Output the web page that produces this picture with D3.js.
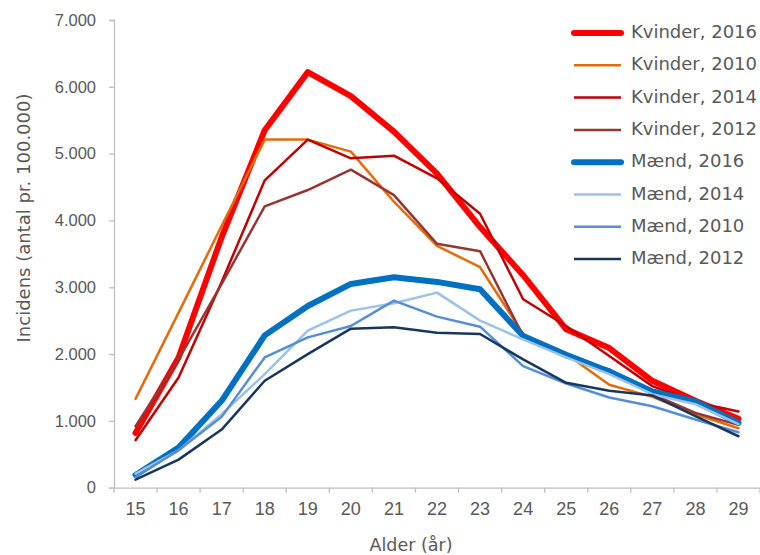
<!DOCTYPE html>
<html>
<head>
<meta charset="utf-8">
<script src="https://cdn.jsdelivr.net/npm/d3@7"></script>
<style>
  body { margin: 0; background: #fff; }
  svg { display: block; font-family: "DejaVu Sans", Verdana, sans-serif; }
</style>
</head>
<body>
<div id="chart"></div>
<script>
const ages = ["15", "16", "17", "18", "19", "20", "21", "22", "23", "24", "25", "26", "27", "28", "29"]
const yTicks = [0, 1000, 2000, 3000, 4000, 5000, 6000, 7000]

const kvinder2016 = [820, 1950, 3750, 5350, 6220, 5860, 5330, 4700, 3900, 3180, 2370, 2090, 1600, 1300, 1030]
const kvinder2010 = [1330, 2620, 3920, 5210, 5210, 5030, 4280, 3620, 3300, 2300, 2000, 1540, 1360, 1100, 890]
const kvinder2014 = [710, 1650, 3080, 4600, 5210, 4930, 4970, 4630, 4100, 2820, 2420, 1970, 1520, 1280, 1140]
const kvinder2012 = [920, 1920, 3050, 4210, 4455, 4760, 4380, 3650, 3540, 2270, 1950, 1770, 1400, 1120, 940]
const maend2016 = [190, 600, 1300, 2280, 2720, 3050, 3150, 3080, 2970, 2270, 1990, 1740, 1440, 1290, 970]
const maend2014 = [210, 560, 1100, 1700, 2350, 2650, 2760, 2920, 2500, 2220, 1950, 1700, 1400, 1250, 950]
const maend2010 = [160, 560, 1060, 1950, 2250, 2420, 2800, 2560, 2410, 1820, 1560, 1350, 1220, 1020, 830]
const maend2012 = [120, 420, 870, 1600, 2000, 2380, 2400, 2320, 2300, 1920, 1570, 1450, 1380, 1070, 770]

const series = [
    { name: "Kvinder, 2016", values: kvinder2016, color: "#ff0000", width: 6 },
    { name: "Kvinder, 2010", values: kvinder2010, color: "#e36c09", width: 2.5 },
    { name: "Kvinder, 2014", values: kvinder2014, color: "#c00000", width: 2.5 },
    { name: "Kvinder, 2012", values: kvinder2012, color: "#963634", width: 2.5 },
    { name: "Mænd, 2016", values: maend2016, color: "#0070c0", width: 6 },
    { name: "Mænd, 2014", values: maend2014, color: "#9cc2e5", width: 2.5 },
    { name: "Mænd, 2010", values: maend2010, color: "#558ed5", width: 2.5 },
    { name: "Mænd, 2012", values: maend2012, color: "#17375e", width: 2.5 }
]

const width = 760
const height = 555
const plotLeft = 114
const plotRight = 760
const plotTop = 20
const plotBottom = 487.7
const textColor = "#595959"
const axisColor = "#bfbfbf"

const svg = d3.select("#chart").append("svg")
    .attr("width", width)
    .attr("height", height)

const x = d3.scaleBand().domain(ages).range([plotLeft, plotRight])
const y = d3.scaleLinear().domain([0, 7000]).range([plotBottom, plotTop])

const da = d3.formatLocale({ decimal: ",", thousands: ".", grouping: [3], currency: ["", ""] })
const fmt = da.format(",")

// y axis
const yAxis = svg.append("g")
    .attr("transform", `translate(${plotLeft},0)`)
    .call(d3.axisLeft(y).tickValues(yTicks).tickFormat(fmt).tickSize(5).tickPadding(13))
yAxis.select(".domain").attr("stroke", axisColor).attr("stroke-width", 1.3)
yAxis.selectAll(".tick line").attr("stroke", axisColor).attr("stroke-width", 1.3)
yAxis.selectAll(".tick text")
    .attr("fill", textColor)
    .style("font-size", "16.5px")

// x axis, ticks sit between categories
const xAxis = svg.append("g")
    .attr("transform", `translate(0,${plotBottom})`)
    .call(d3.axisBottom(x).tickSize(0).tickPadding(15))
xAxis.select(".domain").attr("stroke", axisColor).attr("stroke-width", 1.3)
xAxis.selectAll(".tick text")
    .attr("fill", textColor)
    .style("font-size", "18px")
xAxis.append("g").selectAll("line")
    .data(ages.concat(["end"]))
    .enter().append("line")
    .attr("x1", (d, i) => plotLeft + i * x.step())
    .attr("x2", (d, i) => plotLeft + i * x.step())
    .attr("y1", 0)
    .attr("y2", 5)
    .attr("stroke", axisColor)
    .attr("stroke-width", 1.3)

// axis titles
svg.append("text")
    .attr("transform", "translate(25,218) rotate(-90)")
    .attr("text-anchor", "middle")
    .attr("dominant-baseline", "middle")
    .attr("fill", textColor)
    .style("font-size", "18px")
    .text("Incidens (antal pr. 100.000)")

svg.append("text")
    .attr("x", 411)
    .attr("y", 546)
    .attr("text-anchor", "middle")
    .attr("dominant-baseline", "middle")
    .attr("fill", textColor)
    .style("font-size", "17.5px")
    .text("Alder (år)")

// lines
const line = d3.line()
    .x((d, i) => x(ages[i]) + x.bandwidth() / 2)
    .y(d => y(d))

svg.append("g")
    .selectAll("path")
    .data(series)
    .enter().append("path")
    .attr("fill", "none")
    .attr("stroke", d => d.color)
    .attr("stroke-width", d => d.width)
    .attr("stroke-linejoin", "round")
    .attr("stroke-linecap", "round")
    .attr("d", d => line(d.values))

// legend
const legend = svg.append("g")
    .selectAll("g")
    .data(series)
    .enter().append("g")
    .attr("transform", (d, i) => `translate(0,${33 + i * 32.3})`)

legend.append("line")
    .attr("x1", 574)
    .attr("x2", 621)
    .attr("stroke", d => d.color)
    .attr("stroke-width", d => d.width)
    .attr("stroke-linecap", d => d.width > 3 ? "round" : "butt")

legend.append("text")
    .attr("x", 631)
    .attr("dominant-baseline", "middle")
    .attr("fill", textColor)
    .style("font-size", "18px")
    .text(d => d.name)
</script>
</body>
</html>
